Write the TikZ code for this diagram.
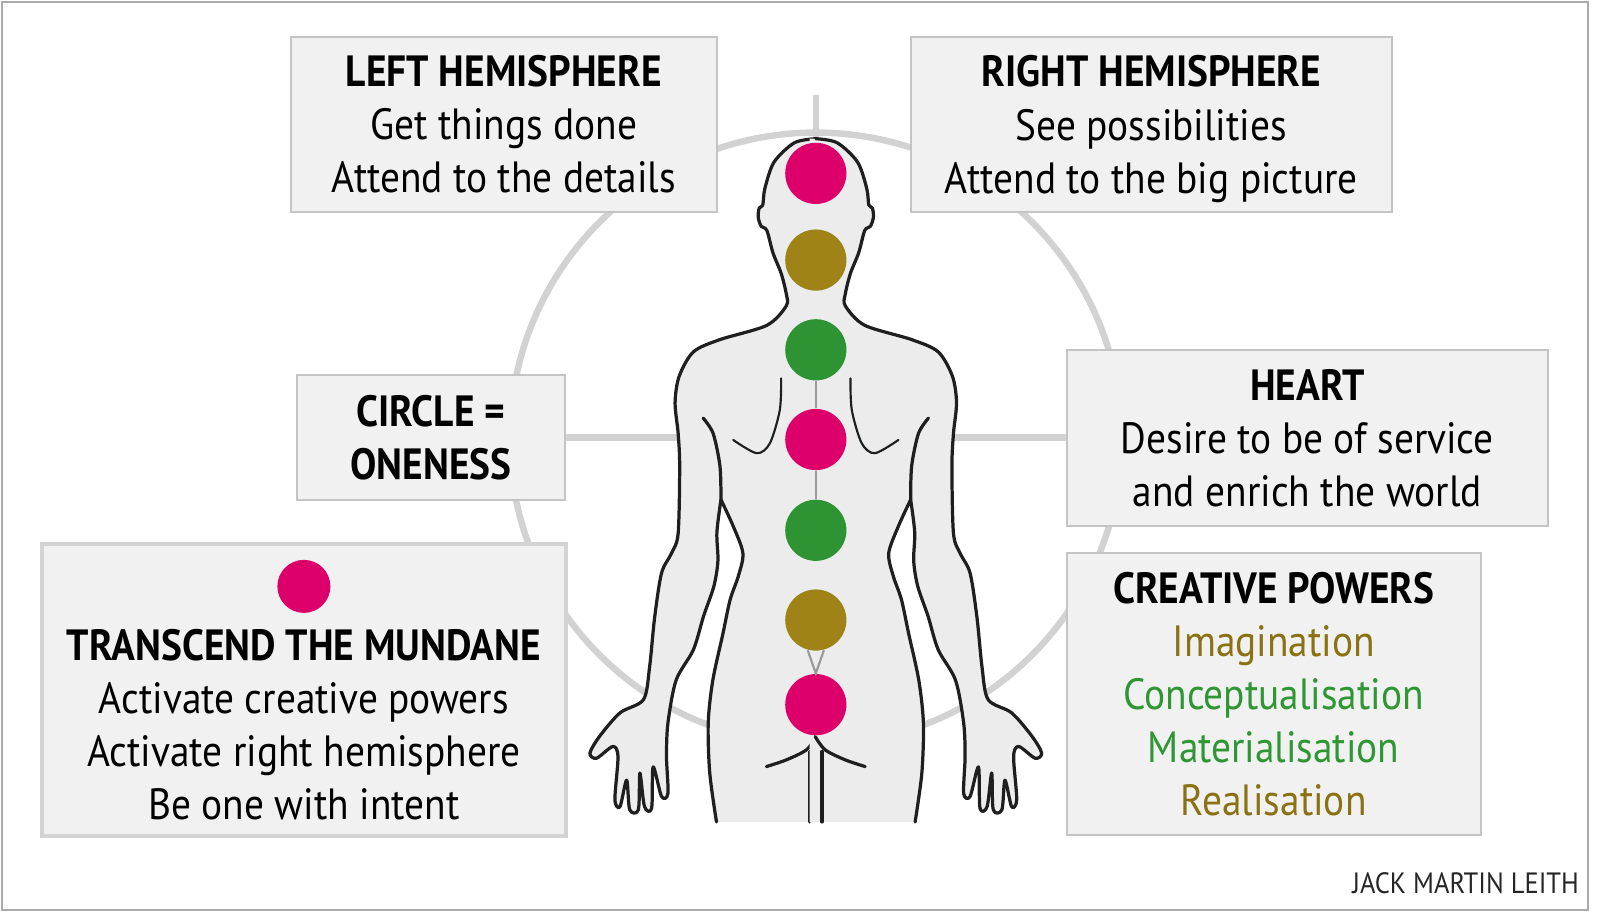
\documentclass[tikz,border=0pt]{standalone}
\usepackage{fontspec}
\setmainfont{PT Sans}[FakeStretch=0.9]
\usetikzlibrary{backgrounds}
\definecolor{chakrapink}{HTML}{DD006B}
\definecolor{chakragold}{HTML}{A08316}
\definecolor{chakragreen}{HTML}{2E9433}
\definecolor{textgold}{HTML}{8A7111}
\definecolor{textgreen}{HTML}{2E9632}
\definecolor{boxfill}{HTML}{F1F1F1}
\definecolor{boxline}{HTML}{C4C4C4}
\definecolor{ringgray}{HTML}{D2D2D2}
\definecolor{bodygray}{HTML}{ECECEC}
\newcommand{\nodepth}[1]{\raisebox{0pt}[\height][0pt]{#1}}

\begin{document}
\begin{tikzpicture}[x=0.1mm, y=-0.1mm,
  infobox/.style={draw=boxline, line width=0.6pt, fill=boxfill, inner sep=0pt,
    align=center, font=\fontsize{12.2}{14.8}\selectfont},
  ringline/.style={draw=ringgray, line width=1.8pt},
  chakra/.style={circle, inner sep=0pt, minimum size=6mm},
  bodyline/.style={draw=black!88, line width=0.9pt, line cap=round, line join=round},
  spine/.style={draw=black!40, line width=0.6pt},
  halfbody/.style={insert path={plot[smooth, tension=0.5] coordinates {
    (800,136) (779,140) (759,159) (750,185) (748,201) (744.5,204) (743.5,213)
    (746.5,222) (752,226) (758,248) (766,268) (771,288) (771,300) (752,319)
    (706,333) (680,345) (666,369) (662,395) (665,425) (666.5,457) (665,523)
    (658.5,542.5) (648.7,562) (642,605) (637,654) (631,686)
    (608,699) (588,722) (578.5,738.5) (585,743.5) (601,732) (606,742) (603,784)
    (608,791) (614.5,765) (617.5,794) (626,794) (627.5,758) (632,791) (639,792.5)
    (640.5,752) (648.7,781) (655,778) (653.6,742) (655,709) (663,667) (680,637)
    (690,604) (700,575) (704,550) (703,522) (707,490)}
    -- plot[smooth, tension=0.5] coordinates {
    (707,490) (719,516) (728.5,542.5) (724,565) (716,588) (709,621) (699,667)
    (694.5,709) (696,758) (702.6,806)}}}
]
\useasboundingbox (0,0) rectangle (1569,899);
\draw[draw=black!33, line width=0.6pt] (2,2) rectangle (1557,892);

% text boxes
\node[infobox, minimum width=41.8mm, minimum height=17.2mm] (lefthemi) at (494,122)
  {\textbf{LEFT HEMISPHERE}\\Get things done\\Attend to the details};
\node[infobox, minimum width=47.2mm, minimum height=17.2mm] (righthemi) at (1129,122)
  {\textbf{RIGHT HEMISPHERE}\\See possibilities\\\nodepth{Attend to the big picture}};
\node[infobox, minimum width=26.3mm, minimum height=12.2mm] (oneness) at (422.5,429)
  {\textbf{CIRCLE =}\\\textbf{ONENESS}};
\node[infobox, minimum width=47.2mm, minimum height=17.3mm] (heart) at (1282,429.5)
  {\textbf{HEART}\\Desire to be of service\\and enrich the world};
\node[infobox, minimum width=40.6mm, minimum height=27.7mm] (creative) at (1249,680.5)
  {\textbf{CREATIVE POWERS}\\\textcolor{textgold}{Imagination}\\
   \textcolor{textgreen}{Conceptualisation}\\\textcolor{textgreen}{Materialisation}\\
   \textcolor{textgold}{Realisation}};
\node[infobox, draw=boxline!75, line width=1.1pt, minimum width=51.4mm,
  minimum height=28.7mm] (mundane) at (298,676.5) {};
\node[align=center, inner sep=0pt, font=\fontsize{12.2}{14.8}\selectfont] (mundanetext) at (298,711)
  {\textbf{TRANSCEND THE MUNDANE}\\Activate creative powers\\Activate right hemisphere\\Be one with intent};
\node[chakra, fill=chakrapink, minimum size=5.2mm] (mundanedot) at (298,575) {};

% circle of oneness
\coordinate (hub) at (800,430);
\coordinate (tick) at (800,93);
\begin{scope}[on background layer]
\draw[ringline] (hub) circle[radius=300];
\draw[ringline] (tick) -- (hub);
\draw[ringline] (oneness.east) -- (oneness.east -| heart.west);
\end{scope}

% figure, left half and mirrored right half
\foreach \s/\dx in {1/0mm,-1/160mm}
{
  \begin{scope}[xshift=\dx, xscale=\s]
  \fill[bodygray, halfbody] -- (806,806) -- (806,136) -- cycle;
  \draw[bodyline, halfbody];
  \draw[bodyline] plot[smooth] coordinates {(689.5,410) (699.3,425) (706,457) (707,490)};
  \draw[bodyline, line width=0.6pt] plot[smooth] coordinates {(766,371) (764.7,402) (755,434.6) (742,444.4) (719,431.4)};
  \draw[bodyline] plot[smooth] coordinates {(800.6,722.3) (790.8,735.3) (771.2,745.1) (751.6,751.7)};
  \draw[bodyline] (794,737) -- (794,806);
  \end{scope}
}

% chakras
\foreach \y/\c [count=\n] in {170/chakrapink, 255/chakragold, 343/chakragreen,
  431/chakrapink, 520/chakragreen, 608/chakragold, 691/chakrapink}
{
  \node[chakra, fill=\c] (chakra\n) at (800,\y) {};
}
\draw[spine] (chakra3) -- (chakra4) -- (chakra5);
\draw[spine] (chakra6.-105) -- (chakra7.north) -- (chakra6.-75);

\node[anchor=base east, inner sep=0pt, font=\fontsize{8.2}{10}\selectfont, text=black!85]
  (signature) at (1549,876) {JACK MARTIN LEITH};
\end{tikzpicture}
\end{document}
